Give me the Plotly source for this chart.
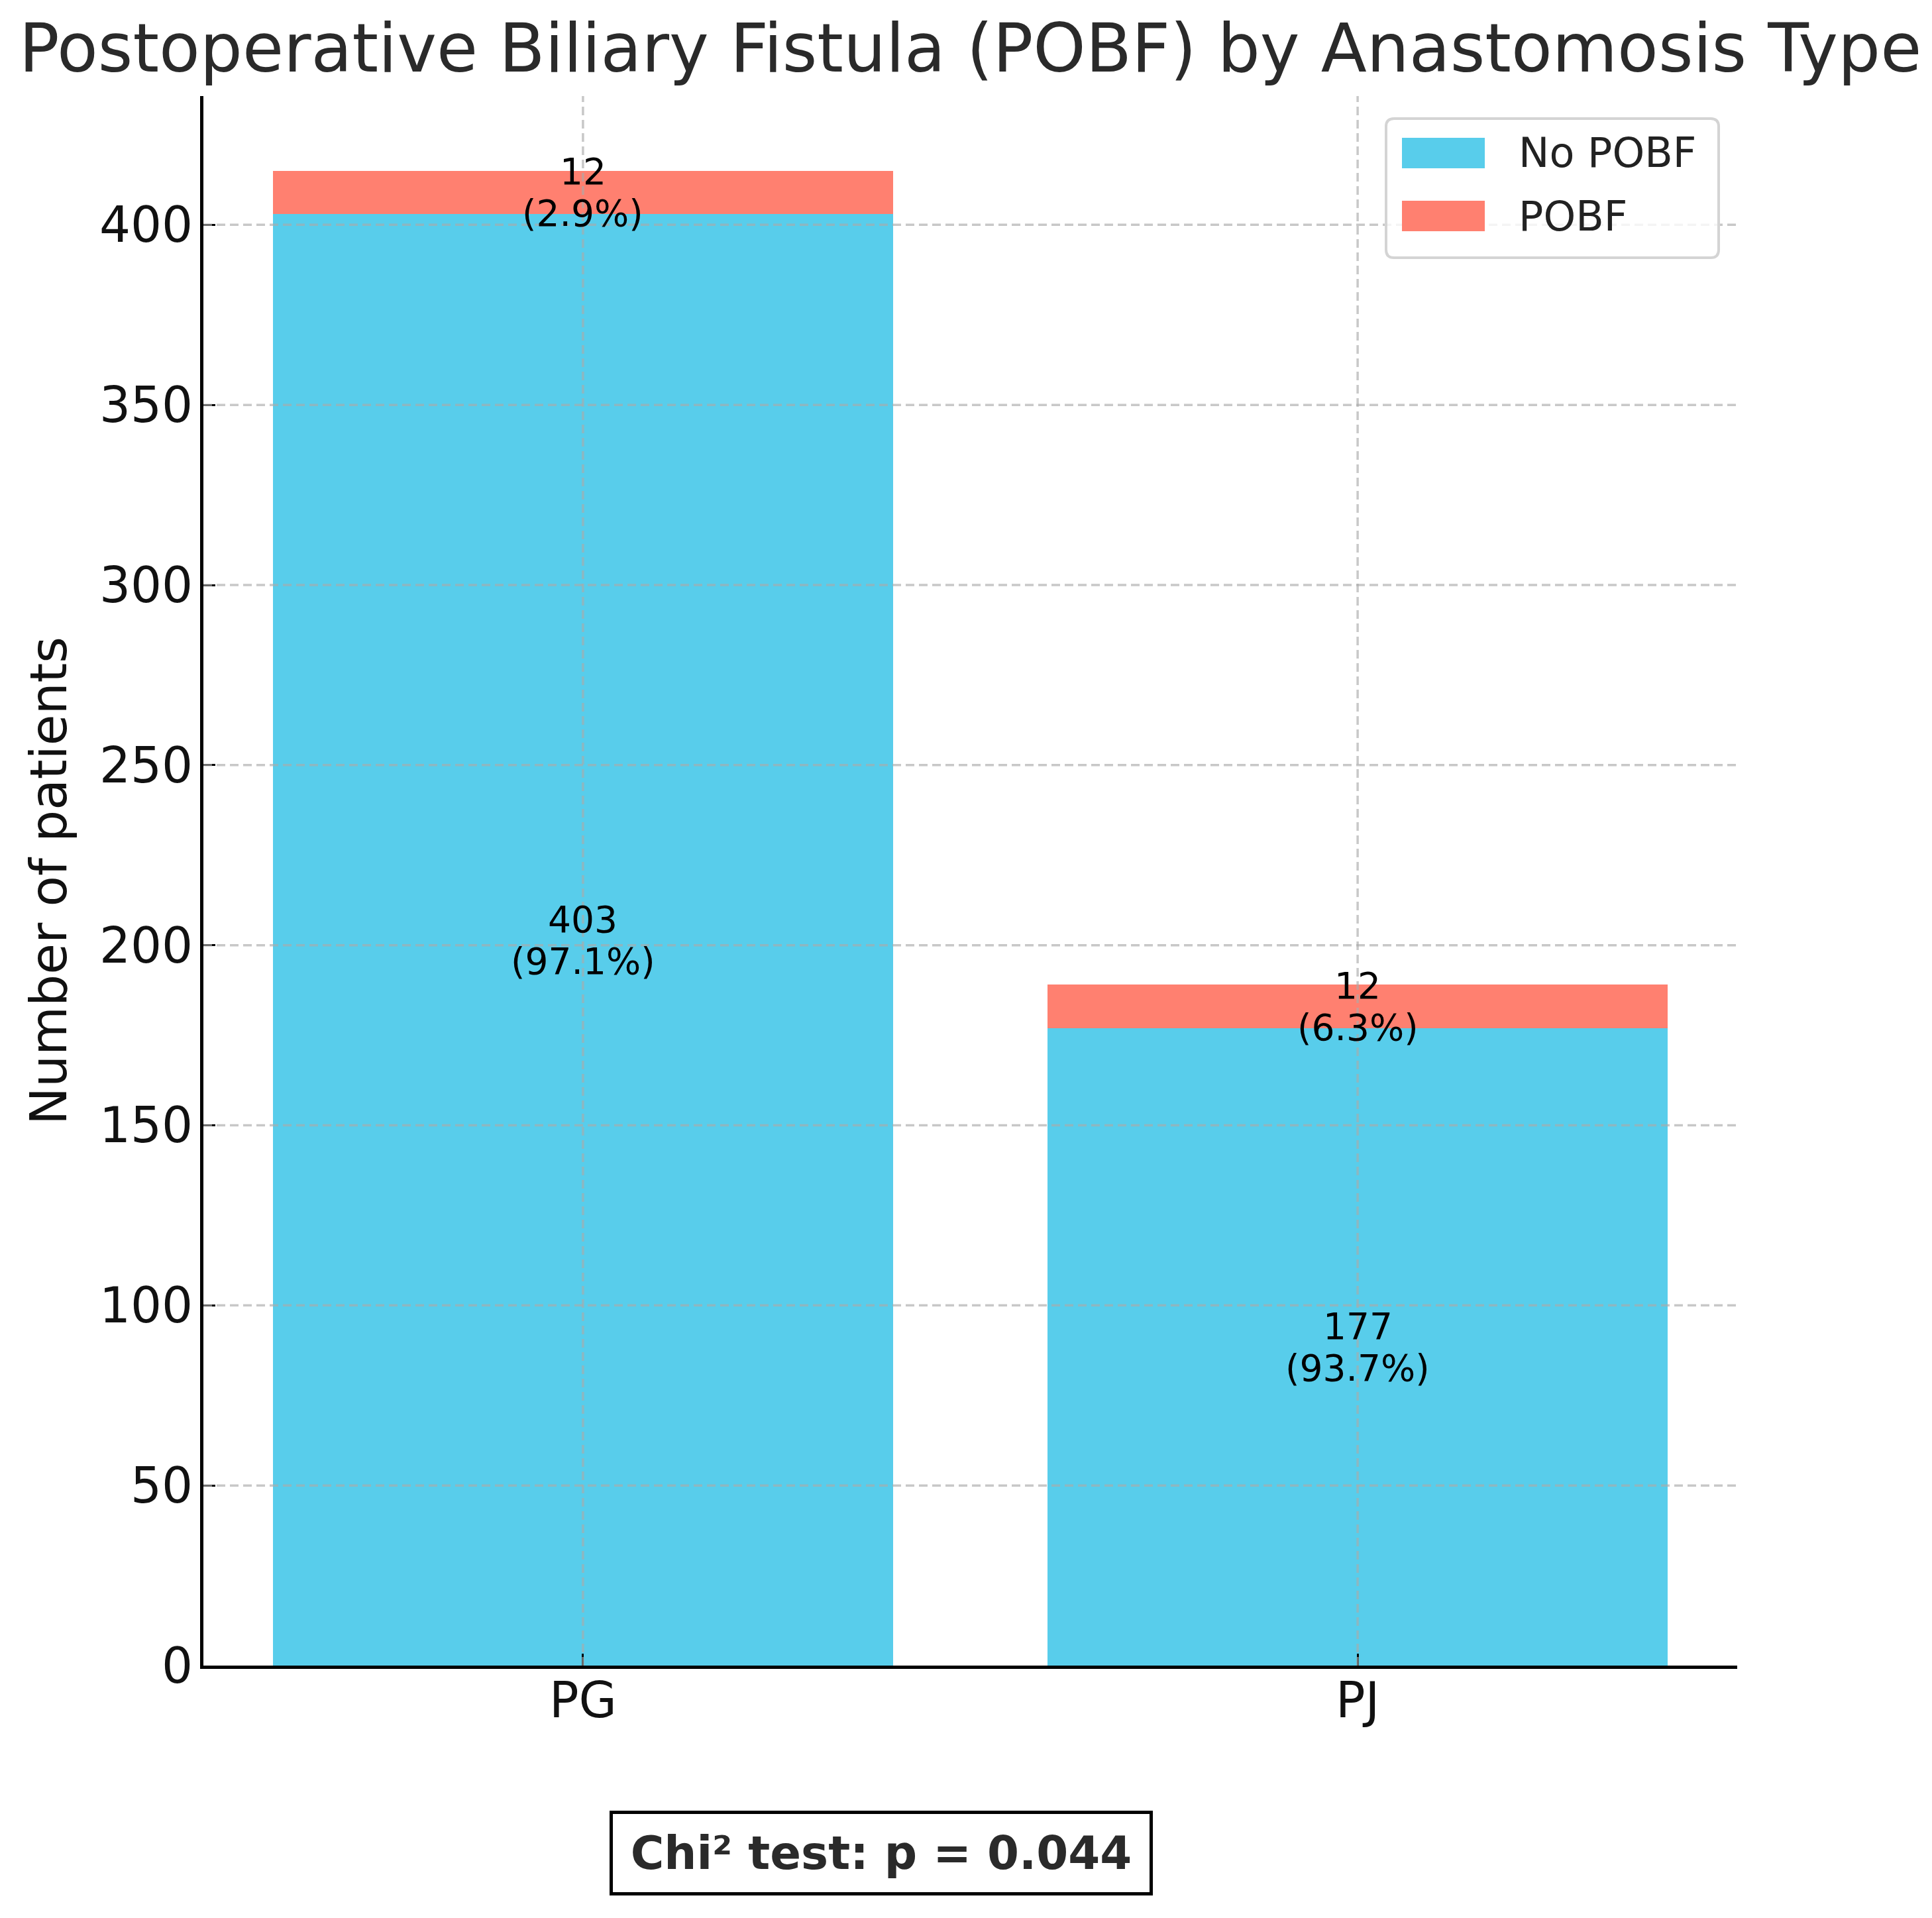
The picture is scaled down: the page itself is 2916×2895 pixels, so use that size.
import plotly.graph_objects as go

# data
categories = ["PG", "PJ"]
series_names = ["No POBF", "POBF"]
no_pobf = [403, 177]
pobf = [12, 12]
y_ticks = [0, 50, 100, 150, 200, 250, 300, 350, 400]
chi_label = "Chi² test: p = 0.044"

blue = "#58CDEB"
red = "#FF8070"
colors = [blue, red]
font = "DejaVu Sans"

W, H = 2916, 2895
L, R, T, B = 307, 294, 145, 381
pw, ph = W - L - R, H - T - B


def px(X):
    return (X - L) / pw


def py(Y):
    return (H - B - Y) / ph


fig = go.Figure()
for name, vals, col in zip(series_names, [no_pobf, pobf], colors):
    fig.add_trace(go.Bar(x=categories, y=vals, name=name, marker_color=col,
                         marker_line_width=0, width=0.8, showlegend=False))

# count / percent labels centred in each segment
for i, cat in enumerate(categories):
    total = no_pobf[i] + pobf[i]
    for base, val in [(0, no_pobf[i]), (no_pobf[i], pobf[i])]:
        mid = base + val / 2
        fig.add_annotation(x=cat, y=mid, text=str(val), showarrow=False, yshift=31,
                           font=dict(family=font, size=55, color="black"))
        fig.add_annotation(x=cat, y=mid, text="({:.1f}%)".format(100 * val / total),
                           showarrow=False, yshift=-32,
                           font=dict(family=font, size=55, color="black"))

# dashed grid drawn over the bars
grid = dict(color="rgba(170,170,170,0.65)", width=3.5, dash="13px,7px")
for t in y_ticks[1:]:
    fig.add_shape(type="line", xref="paper", yref="y", x0=0, x1=1, y0=t, y1=t,
                  line=grid, layer="above")
for i in range(len(categories)):
    fig.add_shape(type="line", xref="x", yref="paper", x0=i, x1=i, y0=0, y1=1,
                  line=grid, layer="above")

# legend box (rounded frame, swatches, labels)
x0, x1, y0, y1, rr = 2092, 2594, 179, 389, 12
path = ("M {a},{b} L {c},{b} Q {d},{b} {d},{e} L {d},{f} Q {d},{g} {c},{g} "
        "L {a},{g} Q {h},{g} {h},{f} L {h},{e} Q {h},{b} {a},{b} Z").format(
    a=px(x0 + rr), b=py(y0), c=px(x1 - rr), d=px(x1), e=py(y0 + rr),
    f=py(y1 - rr), g=py(y1), h=px(x0))
fig.add_shape(type="path", xref="paper", yref="paper", path=path,
              fillcolor="rgba(255,255,255,0.8)", line=dict(color="#d4d4d4", width=4),
              layer="above")
for k, (name, col) in enumerate(zip(series_names, colors)):
    top = 208 + 95 * k
    fig.add_shape(type="rect", xref="paper", yref="paper",
                  x0=px(2116), x1=px(2241), y0=py(top), y1=py(top + 46),
                  fillcolor=col, line_width=0, layer="above")
    fig.add_annotation(xref="paper", yref="paper", x=px(2290), y=py(top + 23),
                       xanchor="left", yanchor="middle", text=name, showarrow=False,
                       font=dict(family=font, size=62, color="#222"))

fig.add_annotation(xref="paper", yref="paper", x=px(1330), y=py(2797),
                   xanchor="center", yanchor="middle",
                   text="<b>" + chi_label + "</b>", showarrow=False,
                   font=dict(family=font, size=69, color="#2a2a2a"),
                   width=790, height=98, align="center",
                   bordercolor="black", borderwidth=5, borderpad=10, bgcolor="white")

fig.update_layout(
    width=W, height=H,
    barmode="stack",
    plot_bgcolor="white", paper_bgcolor="white",
    margin=dict(l=L, r=R, t=T, b=B),
    font=dict(family=font, color="#222"),
    title=dict(text="Postoperative Biliary Fistula (POBF) by Anastomosis Type",
               x=0.5, xref="paper", xanchor="center",
               y=1 - 73 / H, yref="container", yanchor="middle",
               font=dict(family=font, size=101, color="#2a2a2a")),
    xaxis=dict(range=[-0.49, 1.49], showgrid=False, showline=True, linecolor="black",
               linewidth=5, ticks="inside", ticklen=18, tickwidth=3, tickcolor="black",
               ticklabelstandoff=-16,
               tickfont=dict(family=font, size=74, color="#111")),
    yaxis=dict(range=[0, 435.75], tickvals=y_ticks, showgrid=False, zeroline=False,
               showline=True, linecolor="black", linewidth=5, ticks="inside",
               ticklen=18, tickwidth=3, tickcolor="black", ticklabelstandoff=-4,
               tickfont=dict(family=font, size=74, color="#111"),
               title=dict(text="Number of patients", standoff=26,
                          font=dict(family=font, size=76, color="#111"))),
)

fig.write_html("out.html", config={"displayModeBar": False},
               post_script="document.body.style.margin='0';")
